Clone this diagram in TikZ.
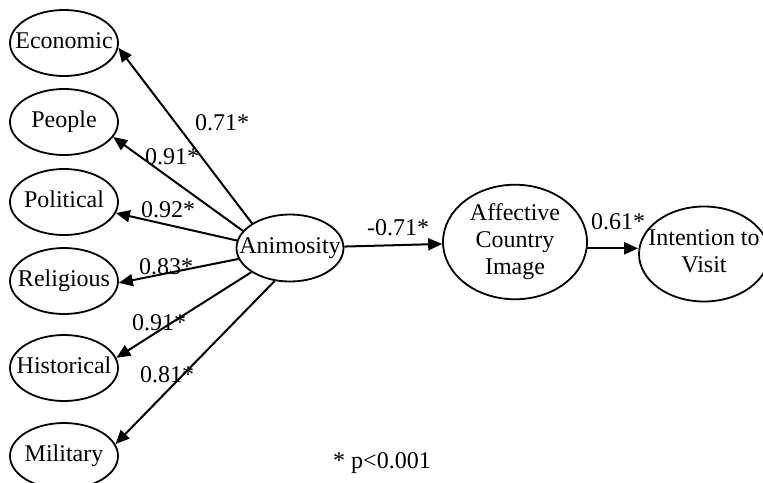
\documentclass[tikz,border=0pt]{standalone}
\usepackage{fontspec}
\setmainfont{Liberation Serif}
\usetikzlibrary{shapes.geometric,arrows.meta,positioning}
% text centred in an ellipse of fixed size
\newcommand{\intext}[1]{\makebox[0pt]{\begin{tabular}{@{}c@{}}#1\end{tabular}}}

\begin{document}
\begin{tikzpicture}[x=0.5pt,y=-0.5pt,
    font=\fontsize{12}{13.5}\selectfont,
    latent/.style={draw,ellipse,line width=0.9pt,inner sep=0pt,minimum width=54pt,minimum height=33pt},
    arr/.style={-{Triangle[length=7pt,width=6pt]},line width=1pt}]

    \useasboundingbox (0,0) rectangle (763,482);

    % Dimensions of animosity
    \foreach \nm/\txt/\yN in {eco/Economic/43,peo/People/122,pol/Political/202,rel/Religious/281,his/Historical/368,mil/Military/456}
        {
        \node[latent] (\nm) at (64,\yN) {\intext{\txt}};
        }

    \node[latent,minimum width=53.5pt,minimum height=33.5pt] (anim) at (290,248) {\intext{Animosity}};
    \node[latent,minimum width=72pt,minimum height=55.5pt] (aff) at (515,242) {\intext{Affective\\Country\\Image}};
    \node[latent,minimum width=65pt,minimum height=47.5pt] (int) at (704,254) {\intext{Intention to\\Visit}};

    % Loadings
    \foreach \nm/\a/\b in {eco/147/-5,peo/160/-17,pol/172/-12,rel/192/-2,his/212/11,mil/245/13}
        {
        \draw[arr] (anim.\a) -- (\nm.\b);
        }
    \foreach \val/\xL/\yL [count=\i] in {0.71*/222/123,0.91*/172/157,0.92*/168/210,0.83*/166/267,0.91*/159/323,0.81*/167/375}
        {
        \node (w\i) at (\xL,\yL) {\val};
        }

    % Structural paths
    \draw[arr] (anim) -- (aff);
    \draw[arr] (aff.-5) -- (aff.-5 -| int.west);
    \node (b1) at (398,228) {-0.71*};
    \node (b2) at (618,222) {0.61*};

    \node (note) at (382,463) {* p<0.001};

\end{tikzpicture}
\end{document}
